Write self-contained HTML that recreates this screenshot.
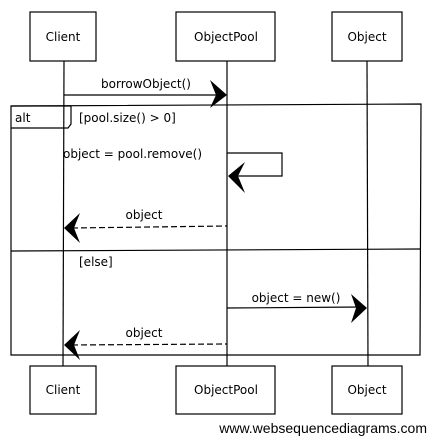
<!DOCTYPE html>
<html><head><style>
body{margin:0;width:429px;height:436px;background:#fff;overflow:hidden}
text{font-family:"Liberation Sans",sans-serif;fill:#000}
.h{font-family:"Comic Sans MS","DejaVu Sans",sans-serif;font-size:12px}
</style></head><body>
<svg width="429" height="436" xmlns="http://www.w3.org/2000/svg">
<g fill="none" stroke="#000" stroke-width="1.2">
<rect x="30" y="12" width="66" height="49"/>
<rect x="176" y="12" width="99" height="49"/>
<rect x="332" y="12" width="70" height="49"/>
<rect x="30" y="366" width="66" height="48"/>
<rect x="176" y="366" width="99" height="48"/>
<rect x="332" y="366" width="70" height="48"/>
<line x1="64" y1="61" x2="63" y2="366"/>
<line x1="227" y1="61" x2="227" y2="366"/>
<line x1="367" y1="61" x2="368" y2="366"/>
<path d="M11 106 L421 104 L420 355 L11 355 Z"/>
<path d="M11 106 L71 106 L71 124 L68 128 L11 128"/>
<line x1="11" y1="251" x2="421" y2="249"/>
<line x1="64" y1="95" x2="222" y2="95"/>
<path d="M227 153 L282 153 L282 176 L232 176"/>
<line x1="72" y1="228" x2="227" y2="226" stroke-dasharray="6,3"/>
<line x1="227" y1="308" x2="362" y2="307"/>
<line x1="72" y1="345" x2="227" y2="344" stroke-dasharray="6,3"/>
</g>
<g fill="#000">
<path d="M227 95 L210 80 L216 95 L210 108 Z"/>
<path d="M228 176 L245 162 L238 176 L245 193 Z"/>
<path d="M64 228 L80 213 L74 228 L80 243 Z"/>
<path d="M367 308 L351 294 L356 308 L351 323 Z"/>
<path d="M64 345 L80 330 L74 345 L80 360 Z"/>
</g>
<g class="h" text-anchor="middle">
<text x="63" y="41" class="h">Client</text>
<text x="226" y="41" class="h">ObjectPool</text>
<text x="367" y="41" class="h">Object</text>
<text x="63" y="394" class="h">Client</text>
<text x="226" y="394" class="h">ObjectPool</text>
<text x="367" y="394" class="h">Object</text>
<text x="146" y="88" class="h">borrowObject()</text>
<text x="144" y="219" class="h">object</text>
<text x="296" y="302" class="h">object = new()</text>
<text x="144" y="337" class="h">object</text>
</g>
<text x="15" y="122" class="h">alt</text>
<text x="79" y="122" class="h">[pool.size() &gt; 0]</text>
<text x="63" y="158" class="h">object = pool.remove()</text>
<text x="79" y="266" class="h">[else]</text>
<text x="427" y="433" text-anchor="end" font-size="14">www.websequencediagrams.com</text>
</svg>
</body></html>
